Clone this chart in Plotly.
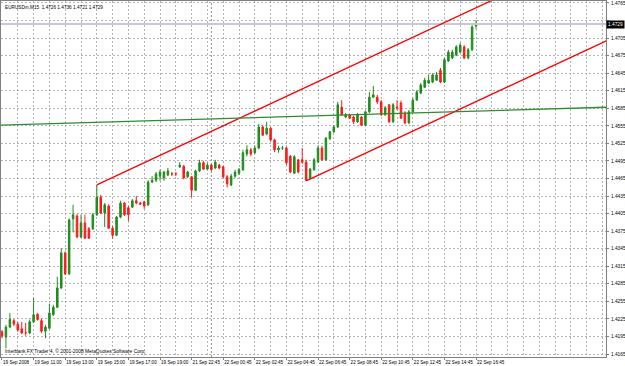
import plotly.graph_objects as go

# ---- data (EURUSDm, M15) ----
bar_open = [1.4203,1.4194,1.4211,1.4222,1.4216,1.4208,1.4201,1.4201,1.4220,1.4233,
            1.4222,1.4204,1.4209,1.4232,1.4245,1.4278,1.4338,1.4302,1.4396,1.4401,
            1.4365,1.4389,1.4379,1.4379,1.4403,1.4433,1.4406,1.4418,1.4380,1.4368,
            1.4399,1.4423,1.4415,1.4416,1.4427,1.4423,1.4425,1.4420,1.4459,1.4462,
            1.4469,1.4466,1.4471,1.4473,1.4473,1.4485,1.4486,1.4468,1.4468,1.4445,
            1.4478,1.4492,1.4481,1.4488,1.4483,1.4488,1.4485,1.4468,1.4454,1.4469,
            1.4474,1.4480,1.4507,1.4514,1.4509,1.4517,1.4553,1.4541,1.4551,1.4531,
            1.4514,1.4517,1.4517,1.4503,1.4474,1.4497,1.4497,1.4493,1.4466,1.4480,
            1.4493,1.4517,1.4497,1.4533,1.4545,1.4553,1.4587,1.4570,1.4574,1.4570,
            1.4562,1.4570,1.4556,1.4579,1.4604,1.4604,1.4596,1.4574,1.4591,1.4562,
            1.4587,1.4594,1.4577,1.4560,1.4579,1.4599,1.4611,1.4621,1.4628,1.4630,
            1.4633,1.4650,1.4630,1.4666,1.4671,1.4676,1.4681,1.4690,1.4671,1.4685,
            1.4726]
bar_high = [1.4206,1.4215,1.4235,1.4225,1.4220,1.4220,1.4218,1.4224,1.4261,1.4235,
            1.4225,1.4215,1.4251,1.4249,1.4297,1.4346,1.4340,1.4397,1.4420,1.4404,
            1.4403,1.4403,1.4382,1.4406,1.4454,1.4437,1.4423,1.4421,1.4384,1.4401,
            1.4427,1.4425,1.4418,1.4430,1.4435,1.4425,1.4427,1.4462,1.4469,1.4476,
            1.4480,1.4478,1.4483,1.4476,1.4476,1.4493,1.4488,1.4478,1.4469,1.4480,
            1.4497,1.4495,1.4492,1.4490,1.4497,1.4490,1.4486,1.4471,1.4473,1.4480,
            1.4483,1.4514,1.4522,1.4517,1.4521,1.4558,1.4556,1.4562,1.4553,1.4533,
            1.4521,1.4521,1.4519,1.4505,1.4505,1.4498,1.4517,1.4497,1.4483,1.4500,
            1.4521,1.4521,1.4536,1.4546,1.4556,1.4596,1.4599,1.4577,1.4575,1.4572,
            1.4577,1.4572,1.4580,1.4613,1.4623,1.4608,1.4599,1.4589,1.4592,1.4594,
            1.4599,1.4598,1.4580,1.4582,1.4603,1.4616,1.4628,1.4637,1.4642,1.4645,
            1.4647,1.4654,1.4671,1.4685,1.4685,1.4693,1.4697,1.4693,1.4688,1.4727,
            1.4736]
bar_low = [1.4192,1.4175,1.4209,1.4213,1.4203,1.4199,1.4196,1.4199,1.4218,1.4222,
           1.4201,1.4192,1.4208,1.4230,1.4244,1.4276,1.4300,1.4300,1.4373,1.4363,
           1.4363,1.4362,1.4362,1.4377,1.4401,1.4404,1.4382,1.4379,1.4362,1.4367,
           1.4397,1.4401,1.4392,1.4415,1.4421,1.4420,1.4413,1.4418,1.4457,1.4459,
           1.4461,1.4461,1.4469,1.4469,1.4469,1.4483,1.4464,1.4466,1.4433,1.4444,
           1.4476,1.4480,1.4480,1.4478,1.4481,1.4481,1.4466,1.4450,1.4452,1.4466,
           1.4471,1.4478,1.4503,1.4503,1.4507,1.4515,1.4538,1.4539,1.4529,1.4510,
           1.4509,1.4514,1.4488,1.4474,1.4473,1.4474,1.4490,1.4461,1.4464,1.4478,
           1.4492,1.4495,1.4495,1.4531,1.4543,1.4551,1.4572,1.4568,1.4567,1.4558,
           1.4560,1.4555,1.4555,1.4577,1.4603,1.4592,1.4572,1.4572,1.4560,1.4560,
           1.4582,1.4567,1.4558,1.4558,1.4577,1.4598,1.4609,1.4620,1.4627,1.4628,
           1.4632,1.4628,1.4628,1.4664,1.4669,1.4674,1.4680,1.4669,1.4669,1.4683,
           1.4721]
bar_close = [1.4196,1.4211,1.4224,1.4216,1.4206,1.4201,1.4201,1.4220,1.4232,1.4224,
             1.4204,1.4211,1.4235,1.4245,1.4278,1.4338,1.4302,1.4394,1.4403,1.4365,
             1.4389,1.4363,1.4363,1.4403,1.4433,1.4406,1.4420,1.4380,1.4368,1.4399,
             1.4423,1.4403,1.4403,1.4427,1.4423,1.4421,1.4418,1.4459,1.4462,1.4473,
             1.4476,1.4476,1.4478,1.4473,1.4473,1.4488,1.4466,1.4476,1.4445,1.4478,
             1.4492,1.4481,1.4488,1.4480,1.4493,1.4483,1.4468,1.4456,1.4469,1.4476,
             1.4480,1.4509,1.4514,1.4507,1.4517,1.4553,1.4539,1.4551,1.4531,1.4514,
             1.4517,1.4517,1.4492,1.4476,1.4502,1.4476,1.4493,1.4462,1.4481,1.4497,
             1.4517,1.4497,1.4534,1.4545,1.4553,1.4591,1.4574,1.4574,1.4568,1.4562,
             1.4574,1.4556,1.4579,1.4604,1.4608,1.4596,1.4574,1.4586,1.4562,1.4591,
             1.4586,1.4568,1.4560,1.4579,1.4599,1.4613,1.4625,1.4633,1.4633,1.4642,
             1.4642,1.4630,1.4668,1.4681,1.4681,1.4690,1.4693,1.4671,1.4685,1.4724,
             1.4729]

time_labels = ["19 Sep 2008", "19 Sep 11:00", "19 Sep 13:00", "19 Sep 15:00",
               "19 Sep 17:00", "19 Sep 19:00", "21 Sep 22:45", "22 Sep 00:45",
               "22 Sep 02:45", "22 Sep 04:45", "22 Sep 06:45", "22 Sep 08:45",
               "22 Sep 10:45", "22 Sep 12:45", "22 Sep 14:45", "22 Sep 16:45"]
label_bars = [0, 8, 16, 24, 32, 40, 48, 56, 64, 72, 80, 88, 96, 104, 112, 120]

price_ticks = [1.4165, 1.4195, 1.4225, 1.4255, 1.4285, 1.4315, 1.4345, 1.4375,
               1.4405, 1.4435, 1.4465, 1.4495, 1.4525, 1.4555, 1.4585, 1.4615,
               1.4645, 1.4675, 1.4705, 1.4735, 1.4765]

# trend lines: (bar index, price) endpoints
upper_channel = ([24, 124.5], [1.4454, 1.4771])
lower_channel = ([77, 153.5], [1.4461, 1.4702])
green_line = ([-1, 154], [1.4556, 1.4587])
day_separators = [53]

symbol_title = "EURUSDm,M15  1.4726 1.4736 1.4721 1.4729"
copyright_text = "Interbank FX Trader 4, © 2001-2008 MetaQuotes Software Corp."
bid_price = 1.4729

x_idx = list(range(len(bar_open)))
FONT = "Liberation Sans"

fig = go.Figure()
fig.add_trace(go.Candlestick(
    x=x_idx, open=bar_open, high=bar_high, low=bar_low, close=bar_close,
    increasing=dict(line=dict(color="#1E8C1E", width=1), fillcolor="#1E8C1E"),
    decreasing=dict(line=dict(color="#FF1A1A", width=1), fillcolor="#FF1A1A"),
    whiskerwidth=0, showlegend=False, hoverinfo="skip"))

# bid line
fig.add_trace(go.Scatter(x=[-1, 154], y=[bid_price, bid_price], mode="lines",
                         line=dict(color="#C8C8D2", width=2), showlegend=False,
                         hoverinfo="skip"))
for (xs, ys), col in [(upper_channel, "#FF0000"), (lower_channel, "#FF0000"),
                      (green_line, "#2E8B2E")]:
    fig.add_trace(go.Scatter(x=xs, y=ys, mode="lines",
                             line=dict(color=col, width=1.3),
                             showlegend=False, hoverinfo="skip"))

for sx in day_separators:
    fig.add_shape(type="line", xref="x", yref="paper", x0=sx, x1=sx, y0=0, y1=1,
                  line=dict(color="#8A8A8A", width=1, dash="2px,2px"), layer="below")

fig.update_layout(
    width=625, height=366,
    margin=dict(l=1, r=19, t=1, b=9),
    paper_bgcolor="white", plot_bgcolor="white",
    font=dict(family=FONT, size=5, color="black"),
    boxgap=0.45,
    xaxis=dict(
        range=[-0.25, 152.9], rangeslider=dict(visible=False),
        tickmode="array", tickvals=label_bars, ticktext=time_labels,
        ticklabelposition="outside right", ticks="outside", ticklen=2,
        tickangle=0, automargin=False, ticklabelstandoff=0,
        tickcolor="#808080", showgrid=False, zeroline=False,
        showline=True, linecolor="#808080", mirror=True,
        tickfont=dict(size=4.6),
        minor=dict(tick0=0, dtick=4, showgrid=True, gridcolor="#B4B4B4",
                   griddash="2px,2px", gridwidth=1, ticks=""),
    ),
    yaxis=dict(
        range=[1.41599, 1.47684], side="right", automargin=False,
        tickmode="array", tickvals=price_ticks,
        ticktext=[("" if abs(v - 1.4735) < 1e-9 else f"{v:.4f}") for v in price_ticks],
        ticks="outside", ticklen=2, tickcolor="#808080", ticklabelstandoff=1,
        showgrid=True, gridcolor="#B4B4B4", griddash="2px,2px", gridwidth=1,
        zeroline=False, showline=True, linecolor="#808080", mirror=True,
        tickfont=dict(size=4.8),
    ),
)

fig.add_annotation(xref="paper", yref="paper", x=0.004, y=0.995, xanchor="left",
                   yanchor="top", text=symbol_title, showarrow=False,
                   font=dict(size=4.7, color="black"))
fig.add_annotation(xref="paper", yref="paper", x=0.004, y=0.003, xanchor="left",
                   yanchor="bottom", text=copyright_text, showarrow=False,
                   font=dict(size=4.9, color="black"))
fig.add_annotation(xref="paper", yref="y", x=1.0, y=bid_price, xanchor="left",
                   yanchor="middle", text=f"{bid_price:.4f}", showarrow=False,
                   bgcolor="black", font=dict(size=4.8, color="white"),
                   borderpad=1)

fig.write_html("out.html")
